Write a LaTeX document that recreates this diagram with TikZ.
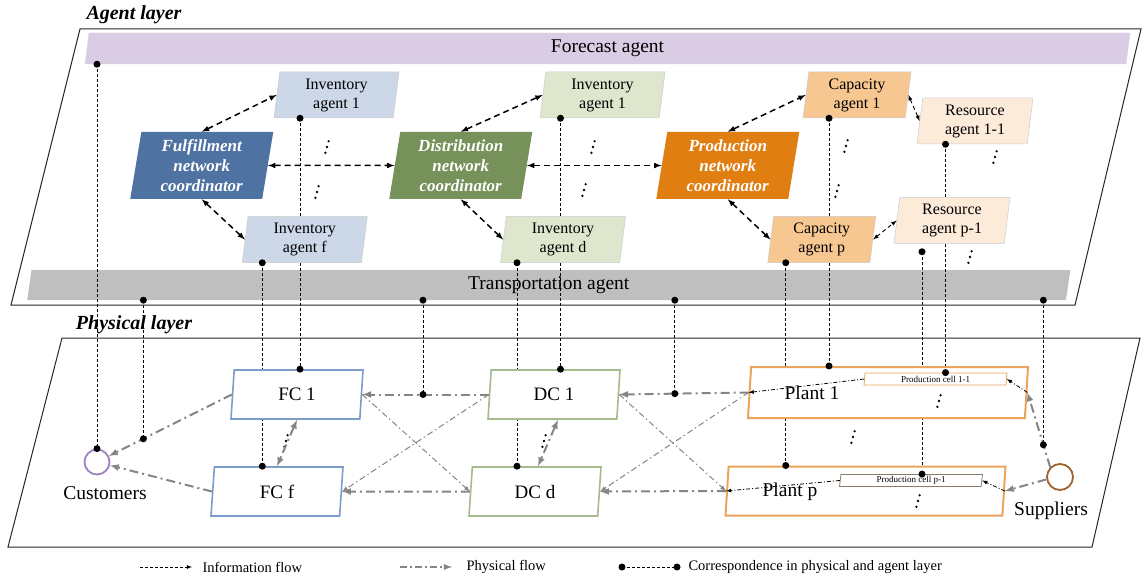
\documentclass[tikz,border=0pt]{standalone}
\usepackage{fontspec}
\setmainfont{Liberation Serif}
\usetikzlibrary{arrows,shapes,positioning,calc}
\definecolor{forecastc}{HTML}{D9CCE4}
\definecolor{transportc}{HTML}{BFBFBF}
\definecolor{invblue}{HTML}{CCD7E8}
\definecolor{invgreen}{HTML}{DEE6CE}
\definecolor{capc}{HTML}{F7C792}
\definecolor{resc}{HTML}{FDEBDA}
\definecolor{fncc}{HTML}{4E72A2}
\definecolor{dncc}{HTML}{77915A}
\definecolor{pncc}{HTML}{E07E12}
\definecolor{fcedge}{HTML}{7C9CC9}
\definecolor{dcedge}{HTML}{A5BB8E}
\definecolor{plantedge}{HTML}{EBA45A}
\definecolor{celledge}{HTML}{8C7B6B}
\definecolor{custc}{HTML}{9B80C4}
\definecolor{suppc}{HTML}{A0612B}
\definecolor{physgray}{HTML}{858585}
\tikzstyle{layer frame}=[draw,line width=1pt,black!85]
\tikzstyle{bar}=[trapezium,trapezium left angle=76,trapezium right angle=104,trapezium stretches body=true,inner sep=0pt,font=\fontsize{19.5}{20}\selectfont]
\tikzstyle{agent}=[trapezium,trapezium left angle=80,trapezium right angle=100,trapezium stretches body=true,minimum width=125pt,minimum height=46pt,inner sep=0pt,align=center,draw=black!20,line width=0.5pt,font=\fontsize{16}{19}\selectfont]
\tikzstyle{coordinator}=[agent,trapezium left angle=78,trapezium right angle=102,minimum width=143pt,minimum height=67pt,draw=none,text=white,font=\fontsize{17}{20}\selectfont\bfseries\itshape]
\tikzstyle{facility}=[trapezium,trapezium left angle=76,trapezium right angle=104,trapezium stretches body=true,minimum width=132pt,minimum height=49pt,inner sep=0pt,fill=white,line width=1.6pt,font=\fontsize{19}{19}\selectfont]
\tikzstyle{cell}=[trapezium,trapezium left angle=80,trapezium right angle=100,trapezium stretches body=true,minimum width=143pt,minimum height=12pt,inner sep=0pt,fill=white,line width=0.8pt,font=\fontsize{9}{9}\selectfont]
\tikzstyle{site}=[circle,minimum size=25pt,inner sep=0pt,line width=1.8pt]
\tikzstyle{info}=[draw,line width=1.5pt,dash pattern=on 6pt off 4pt,latex-latex]
\tikzstyle{info thin}=[draw,line width=0.9pt,dash pattern=on 4pt off 3pt,latex-latex]
\tikzstyle{phys}=[draw,physgray,line width=2pt,dash pattern=on 9pt off 4pt on 2pt off 4pt,-latex]
\tikzstyle{phys thin}=[draw,physgray,line width=1pt,dash pattern=on 6pt off 3pt on 1.5pt off 3pt,-latex]
\tikzstyle{inner flow}=[draw,line width=0.8pt,dash pattern=on 4pt off 2pt on 1pt off 2pt,-latex]
\tikzstyle{corr}=[draw,line width=0.7pt,dash pattern=on 3pt off 2pt]
\tikzstyle{legend}=[anchor=west,font=\fontsize{14.5}{15}\selectfont]
\tikzstyle{plain}=[font=\fontsize{19.5}{20}\selectfont]
\pgfdeclarelayer{bottom}
\pgfdeclarelayer{background}
\pgfsetlayers{bottom,background,main}

\begin{document}
\begin{tikzpicture}[x=1pt,y=-1pt]
\useasboundingbox (0,0) rectangle (1142,577);

% the two layers
\node[font=\fontsize{20}{20}\selectfont\bfseries\itshape] (agentlayer) at (134,15) {Agent layer};
\node[font=\fontsize{20}{20}\selectfont\bfseries\itshape] (physlayer) at (134,325) {Physical layer};
\draw[layer frame] (80,29) -- (1141,29) -- (1075,305) -- (11,305) -- cycle;
\draw[layer frame] (62,338) -- (1140,338) -- (1092,547) -- (8,547) -- cycle;

\begin{pgfonlayer}{bottom}
\node[bar,fill=forecastc,draw=black!15,trapezium left angle=77,trapezium right angle=103,minimum width=1045pt,minimum height=31pt] (forecast) at (607.5,48.5) {Forecast agent};
\node[bar,fill=transportc,minimum width=1043pt,minimum height=30pt] (transport) at (548.75,285) {Transportation agent};
\end{pgfonlayer}

% agents
\node[coordinator,fill=fncc] (fnc) at (201.75,165.5) {Fulfillment\\network\\coordinator};
\node[coordinator,fill=dncc] (dnc) at (460.75,165.5) {Distribution\\network\\coordinator};
\node[coordinator,fill=pncc] (pnc) at (727.75,165.5) {Production\\network\\coordinator};

\foreach \pos/\name/\col/\txt in {{(336.5,95)/inv1a/invblue/agent 1},
{(304.75,239.5)/invfa/invblue/agent f},
{(602.5,95)/inv1b/invgreen/agent 1},
{(563,239.5)/invdb/invgreen/agent d}}
\node[agent,fill=\col] (\name) at \pos {Inventory\\\txt};

\node[agent,fill=capc,minimum width=108pt] (cap1) at (857,95) {Capacity\\agent 1};
\node[agent,fill=capc,minimum width=108pt] (capp) at (821.75,239.5) {Capacity\\agent p};
\node[agent,fill=resc,minimum width=116pt] (res11) at (975,121) {Resource\\agent 1-1};
\node[agent,fill=resc,minimum width=116pt] (resp1) at (952,220.5) {Resource\\agent p-1};

% physical nodes
\node[facility,draw=fcedge] (fc1) at (297,394.5) {FC 1};
\node[facility,draw=fcedge] (fcf) at (277,491.5) {FC f};
\node[facility,draw=dcedge] (dc1) at (554,394.5) {DC 1};
\node[facility,draw=dcedge] (dcd) at (535,491.5) {DC d};
\node[facility,draw=plantedge,line width=2pt,minimum width=280pt,minimum height=51pt] (plant1) at (888,392.5) {\phantom{M}};
\node[facility,draw=plantedge,line width=2pt,minimum width=280pt,minimum height=49pt] (plantp) at (865.5,491) {\phantom{M}};
\node[plain] (plant1txt) at (812,393) {Plant 1};
\node[plain] (planttxtp) at (790,492) {Plant p};
\node[cell,draw=plantedge] (cell11) at (935.5,379) {Production cell 1-1};
\node[cell,draw=celledge] (cellp1) at (911,480.5) {Production cell p-1};
\node[site,draw=custc] (customers) at (97,462) {};
\node[site,draw=suppc,minimum size=26pt] (suppliers) at (1060,477) {};
\node[plain] (custtxt) at (105,493) {Customers};
\node[plain] (supptxt) at (1051,511) {Suppliers};

% vertical dots
\foreach \x/\y in {327/147,317/192,593/147,584/190,846/146,837/191,995/157,970/257,
286/441,544/441,853/437,939/401,918/501}
\fill ({\x+1.6},{\y-5.8}) circle (1.3pt) (\x,\y) circle (1.3pt) ({\x-1.6},{\y+5.8}) circle (1.3pt);

% information flows
\foreach \source/\dest in {fnc.north/inv1a.west,fnc.south/invfa.west,fnc.east/dnc.west,
dnc.north/inv1b.west,dnc.south/invdb.west,dnc.east/pnc.west,
pnc.north/cap1.west,pnc.south/capp.west}
\path[info] (\source) -- (\dest);
\path[info thin] (cap1.east) -- (res11.west);
\path[info thin] (capp.east) -- (resp1.west);

% physical flows
\draw[phys] (fc1.west) -- coordinate[pos=0.72] (tp1) (customers);
\draw[phys] (fcf.west) -- (customers);
\draw[phys] (dc1.west) -- coordinate[pos=0.52] (tp2) (fc1.east);
\draw[phys] (dcd.west) -- (fcf.east);
\draw[phys] (plant1.west) -- coordinate[pos=0.57] (tp3) (dc1.east);
\draw[phys] (plantp.west) -- (dcd.east);
\draw[phys,latex-latex] (fc1.south) -- (fcf.north);
\draw[phys,latex-latex] ([xshift=4pt]dc1.south) -- ([xshift=3pt]dcd.north);
\draw[phys] (suppliers.135) -- coordinate[pos=0.3] (tp4) (plant1.east);
\draw[phys] (suppliers.190) -- (plantp.east);
\foreach \source/\dest in {dc1.west/fcf.east,fc1.east/dcd.west,plant1.west/dcd.east,dc1.east/plantp.west}
\path[phys thin] (\source) -- (\dest);
\path[inner flow] (cell11.west) -- (plant1.west);
\path[inner flow] (plant1.east) -- (cell11.east);
\path[inner flow] (cellp1.west) -- (plantp.west);
\path[inner flow] (plantp.east) -- (cellp1.east);

% correspondence between the layers
\coordinate (a0) at (customers.north |- forecast.south);
\coordinate (p0) at (customers.north);
\coordinate (a1) at ([xshift=-36.5pt]inv1a.south);
\coordinate (p1) at (a1 |- fc1.north);
\coordinate (a2) at ([xshift=-42.5pt]invfa.south);
\coordinate (p2) at (a2 |- fcf.north);
\coordinate (a3) at ([xshift=-42pt]inv1b.south);
\coordinate (p3) at (a3 |- dc1.north);
\coordinate (a4) at ([xshift=-46pt]invdb.south);
\coordinate (p4) at (a4 |- dcd.north);
\coordinate (a5) at ([xshift=-28pt]cap1.south);
\coordinate (p5) at (a5 |- plant1.north);
\coordinate (a6) at ([xshift=-36pt]capp.south);
\coordinate (p6) at (a6 |- plantp.north);
\coordinate (a7) at ([xshift=-29.5pt]res11.south);
\coordinate (p7) at (a7 |- cell11.north);
\coordinate (a8) at ([xshift=-30pt,yshift=-8pt]resp1.south);
\coordinate (p8) at (a8 |- cellp1.north);
\foreach \i in {1,...,4}
\coordinate (b\i) at (tp\i |- transport.south);

\begin{pgfonlayer}{background}
\foreach \i in {0,...,8}
\path[corr] (a\i) -- (p\i);
\foreach \i in {1,...,4}
\path[corr] (b\i) -- (tp\i);
\end{pgfonlayer}
\foreach \i in {0,...,8}
\fill (a\i) circle (3.5pt) (p\i) circle (3.5pt);
\foreach \i in {1,...,4}
\fill (b\i) circle (3.5pt) (tp\i) circle (3.5pt);

% legend
\coordinate (l1a) at (140,567);
\coordinate (l1b) at (192,567);
\coordinate (l2a) at (400,567);
\coordinate (l2b) at (452,567);
\coordinate (l3a) at (622,567);
\coordinate (l3b) at (677,567);
\draw[line width=0.8pt,dash pattern=on 3pt off 2pt,-latex] (l1a) -- (l1b);
\draw[physgray,line width=1.8pt,dash pattern=on 7pt off 3pt on 2pt off 3pt,-latex] (l2a) -- (l2b);
\draw[corr] (l3a) -- (l3b);
\fill (l3a) circle (3.5pt) (l3b) circle (3.5pt);
\node[legend] (lg1) at (199,567) {Information flow};
\node[legend] (lg2) at (463,567) {Physical flow};
\node[legend] (lg3) at (685,567) {Correspondence in physical and agent layer};

\end{tikzpicture}
\end{document}
